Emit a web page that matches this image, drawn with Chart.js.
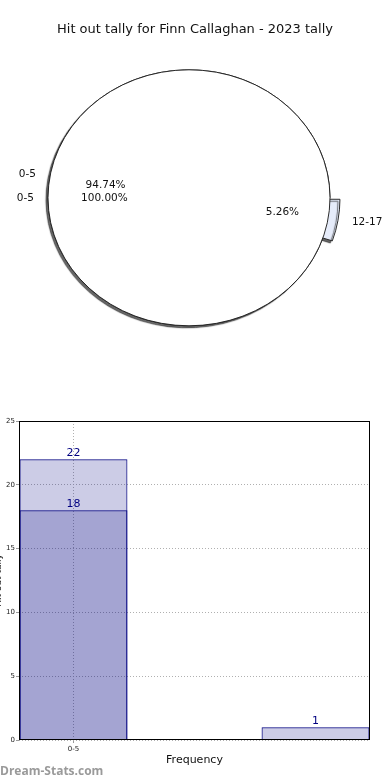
<!DOCTYPE html>
<html>
<head>
<meta charset="utf-8">
<script src="https://cdn.jsdelivr.net/npm/chart.js@4.4.1/dist/chart.umd.min.js"></script>
<style>
  body { margin: 0; background: #fff; width: 390px; height: 780px; position: relative; overflow: hidden; }
  canvas { position: absolute; }
  #pie { left: 0; top: 0; }
  #bars { left: -7px; top: 390px; }
  #mark { position: absolute; left: 0; top: 762px; font: bold 12px "Open Sans", sans-serif; color: #9a9a9a; }
</style>
</head>
<body>
<canvas id="pie" width="390" height="390"></canvas>
<canvas id="bars" width="397" height="390"></canvas>
<div id="mark">Dream-Stats.com</div>
<script>
const chartTitle = 'Hit out tally for Finn Callaghan - 2023 tally';
const bands = ['0-5', '6-11', '12-17'];
const hitoutsA = [18, 0, 1];
const hitoutsB = [22, 0, 0];
const sliceColours = ['#ffffff', '#f2f2f2', '#e6ecfa'];

Chart.defaults.font.family = '"DejaVu Sans", sans-serif';
Chart.defaults.color = '#111';

const pieRadius = 141;
const squash = 128 / 141;   // pie is drawn as an ellipse
const explode = 24;         // chart.js only moves a slice by part of its offset
const labelShift = 0.42;

// matplotlib pies run counter-clockwise from 3 o'clock, chart.js clockwise,
// so the slices are reversed and the pie starts at 90 degrees
function pieSet(values, outline) {
  const idx = values.map((v, i) => i).filter(i => values[i] > 0).reverse();
  return {
    bands: idx.map(i => bands[i]),
    data: idx.map(i => values[i]),
    backgroundColor: idx.map(i => sliceColours[i]),
    offset: idx.map(i => i === 0 ? 0 : explode),
    borderColor: '#222',
    borderWidth: outline ? 1 : 0,
    clip: false
  };
}

const ellipsePie = {
  id: 'ellipsePie',
  afterDatasetUpdate(chart, args) {
    // both pies overlaid at full size instead of nested rings
    args.meta.data.forEach(el => { el.innerRadius = 0; el.outerRadius = pieRadius; });
  },
  beforeDatasetsDraw(chart) {
    const arc = chart.getDatasetMeta(0).data[0];
    const ctx = chart.ctx;
    ctx.save();
    ctx.translate(arc.x, arc.y);
    ctx.scale(1, squash);
    ctx.translate(-arc.x, -arc.y);
  },
  beforeDatasetDraw(chart, args) {
    if (args.index !== 1) return;
    const ctx = chart.ctx;
    ctx.shadowColor = 'rgba(0,0,0,0.6)';
    ctx.shadowOffsetX = -2;
    ctx.shadowOffsetY = 2;
    ctx.shadowBlur = 1;
  },
  afterDatasetDraw(chart, args) {
    const ctx = chart.ctx;
    ctx.shadowColor = 'transparent';
    if (args.index === 0) {
      const arc = args.meta.data[0];
      ctx.beginPath();
      ctx.arc(arc.x, arc.y, arc.outerRadius, 0, Math.PI * 2);
      ctx.lineWidth = 1;
      ctx.strokeStyle = '#222';
      ctx.stroke();
    }
  },
  afterDatasetsDraw(chart) {
    const ctx = chart.ctx;
    ctx.restore();
    ctx.save();
    ctx.font = '10.5px "DejaVu Sans"';
    ctx.fillStyle = '#111';
    ctx.textBaseline = 'middle';
    chart.data.datasets.forEach((ds, d) => {
      const total = ds.data.reduce((a, b) => a + b, 0);
      chart.getDatasetMeta(d).data.forEach((arc, i) => {
        const mid = (arc.startAngle + arc.endAngle) / 2;
        const off = (arc.options.offset || 0) * labelShift;
        const r = arc.outerRadius;
        const px = k => arc.x + Math.cos(mid) * (r * k + off);
        const py = k => arc.y + Math.sin(mid) * (r * k + off) * squash;
        ctx.textAlign = Math.cos(mid) < -0.01 ? 'right' : 'left';
        ctx.fillText(ds.bands[i], px(1.1), py(1.1));
        ctx.textAlign = 'center';
        ctx.fillText((100 * ds.data[i] / total).toFixed(2) + '%', px(0.6), py(0.6));
      });
    });
    // title centred on the page, not on the pie
    ctx.font = '13px "DejaVu Sans"';
    ctx.textAlign = 'center';
    ctx.fillText(chartTitle, chart.width / 2, 30);
    ctx.restore();
  }
};

new Chart(document.getElementById('pie'), {
  type: 'pie',
  data: { datasets: [pieSet(hitoutsB, false), pieSet(hitoutsA, true)] },
  options: {
    responsive: false,
    animation: false,
    rotation: 90,
    layout: { padding: { left: 40, right: 52, top: 47.6, bottom: 42 } },
    plugins: { legend: { display: false }, tooltip: { enabled: false }, title: { display: false } }
  },
  plugins: [ellipsePie]
});

// bar chart
const toPoints = values => values.map((v, i) => ({ x: i, y: v })).filter(p => p.y > 0);

const frame = {
  id: 'frame',
  afterDatasetsDraw(chart) {
    const { ctx, chartArea: a } = chart;
    ctx.save();
    ctx.strokeStyle = '#000';
    ctx.lineWidth = 1;
    ctx.strokeRect(Math.round(a.left) + 0.5, Math.round(a.top) + 0.5,
      Math.round(a.right - a.left) - 1, Math.round(a.bottom - a.top) - 1);
    ctx.restore();
  }
};

const barLabels = {
  id: 'barLabels',
  afterDatasetsDraw(chart) {
    const ctx = chart.ctx;
    ctx.save();
    ctx.font = '11px "DejaVu Sans"';
    ctx.fillStyle = '#000080';
    ctx.textAlign = 'center';
    ctx.textBaseline = 'bottom';
    chart.data.datasets.forEach((ds, d) => {
      chart.getDatasetMeta(d).data.forEach((bar, i) => {
        ctx.fillText(String(ds.data[i].y), bar.x, bar.y - 1);
      });
    });
    ctx.restore();
  }
};

const barStyle = {
  grouped: false,
  categoryPercentage: 1,
  barPercentage: 0.446,
  backgroundColor: 'rgba(0,0,128,0.2)',
  borderColor: '#000080',
  borderWidth: 1
};
const gridStyle = { color: '#b0b0b0', tickLength: 3, tickColor: '#999', offset: false };

new Chart(document.getElementById('bars'), {
  type: 'bar',
  data: {
    datasets: [
      { data: toPoints(hitoutsA), ...barStyle },
      { data: toPoints(hitoutsB), ...barStyle }
    ]
  },
  options: {
    responsive: false,
    animation: false,
    layout: { padding: { top: 31, right: 20, left: 0, bottom: 0 } },
    plugins: { legend: { display: false }, tooltip: { enabled: false } },
    scales: {
      x: {
        type: 'linear',
        offset: false,
        min: -0.45,
        max: 2.45,
        afterBuildTicks: s => { s.ticks = [{ value: 0 }]; },
        afterFit: s => { s.height = 40; },
        ticks: { callback: v => bands[v], font: { size: 7 }, color: '#222', padding: 2, maxRotation: 0 },
        grid: gridStyle,
        border: { display: false, dash: [1, 2] },
        title: { display: true, text: 'Frequency', font: { size: 11 }, color: '#111', padding: { top: 0, bottom: 13 } }
      },
      y: {
        min: 0,
        max: 25,
        afterFit: s => { s.width = 26; },
        ticks: { stepSize: 5, font: { size: 7 }, color: '#222', padding: 1 },
        grid: gridStyle,
        border: { display: false, dash: [1, 2] },
        title: { display: true, text: 'Hit out tally', font: { size: 9 }, color: '#111', padding: 0 }
      }
    }
  },
  plugins: [frame, barLabels]
});
</script>
</body>
</html>
